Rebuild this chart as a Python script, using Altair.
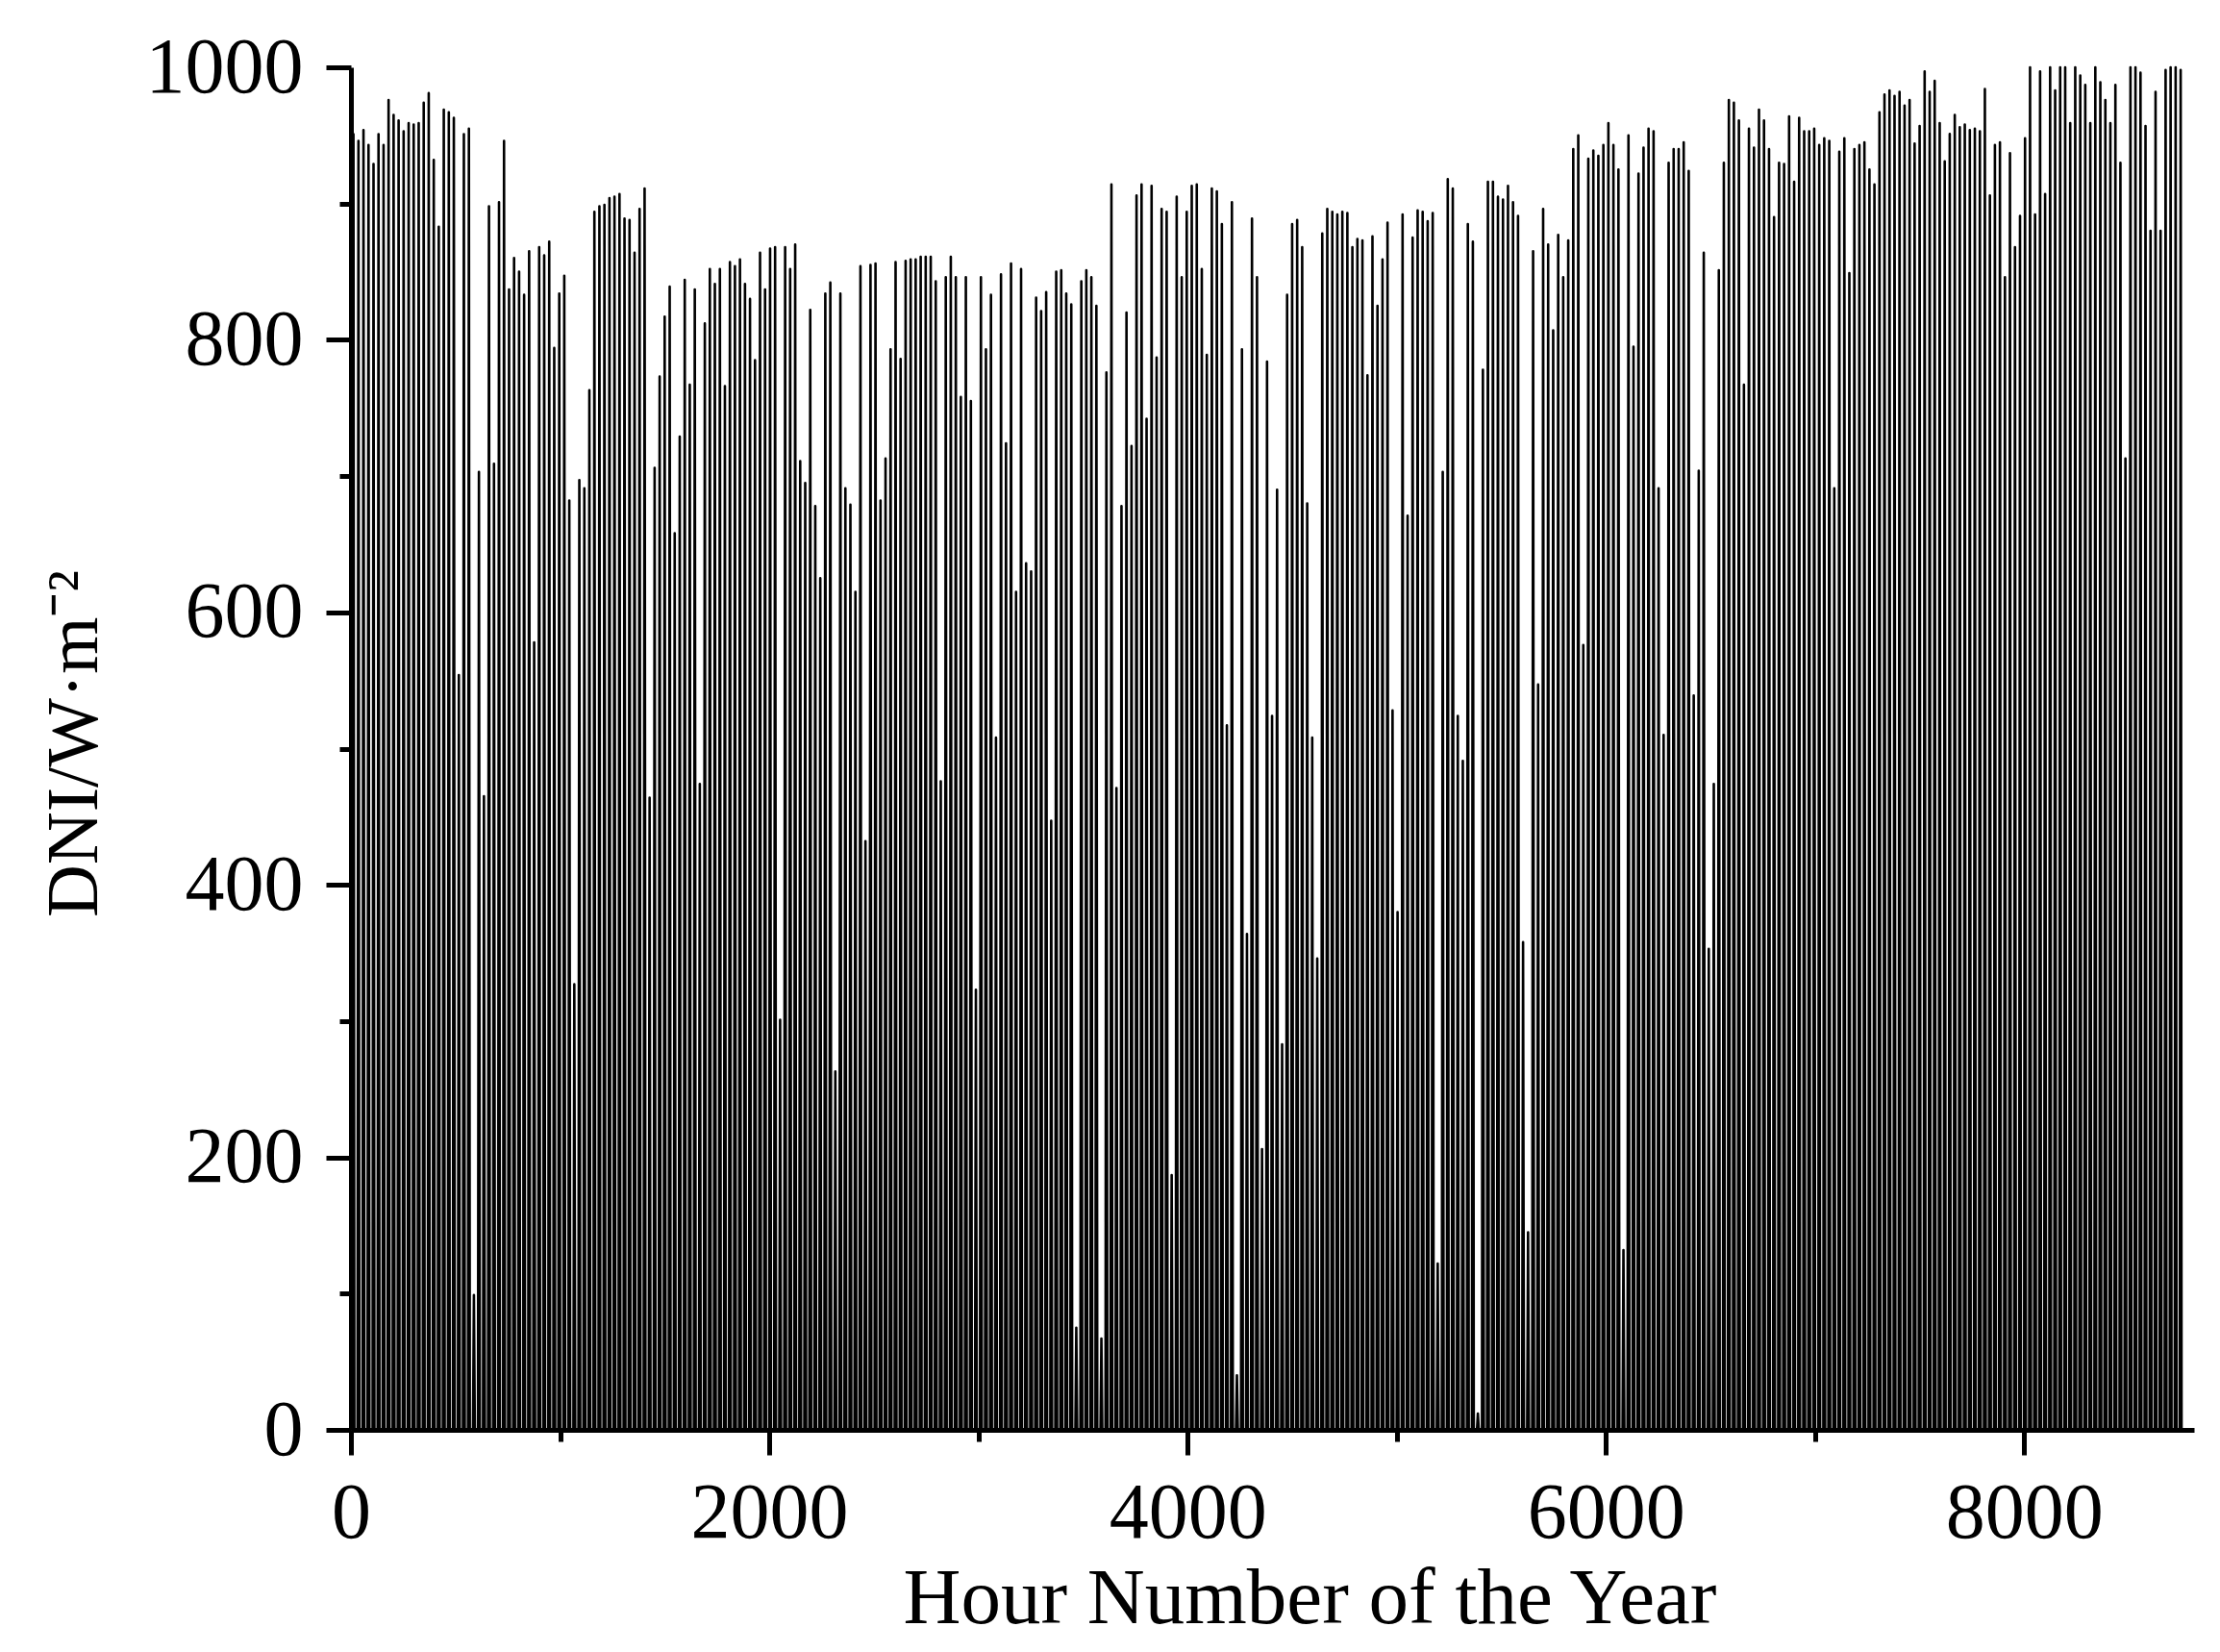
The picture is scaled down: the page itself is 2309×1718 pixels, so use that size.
import altair as alt
import pandas as pd

# Daily peak DNI (W/m^2), one value per day, grouped by month
jan = [951, 946, 954, 943, 929, 951, 943, 976, 965, 961, 953, 959, 958, 959, 974, 981,
       932, 883, 969, 967, 963, 554, 951, 955, 99, 703, 465, 898, 709, 901, 946]
feb = [837, 860, 850, 833, 865, 578, 868, 862, 872, 794, 834, 847, 682, 327, 697, 691,
       763, 894, 898, 899, 904, 905, 907, 889, 888, 864, 896, 911]
mar = [464, 706, 773, 817, 839, 658, 729, 844, 767, 837, 474, 812, 852, 841, 852, 766,
       857, 854, 859, 841, 830, 785, 864, 837, 867, 868, 301, 868, 852, 870, 711]
apr = [695, 822, 678, 625, 834, 842, 263, 834, 691, 679, 615, 854, 432, 855, 856, 682,
       713, 793, 857, 786, 858, 859, 859, 861, 861, 861, 843, 476, 846, 861]
may = [846, 758, 846, 755, 323, 846, 793, 833, 508, 848, 724, 856, 615, 852, 636, 630,
       831, 821, 835, 447, 850, 851, 834, 826, 75, 843, 851, 846, 825, 67, 776]
jun = [914, 471, 678, 820, 722, 906, 914, 742, 913, 787, 896, 894, 187, 905, 846, 894,
       913, 914, 852, 789, 911, 909, 885, 517, 901, 40, 793, 364, 889, 846]
jul = [206, 784, 524, 690, 283, 833, 885, 888, 868, 680, 508, 346, 878, 896, 894, 892,
       894, 893, 868, 874, 873, 774, 876, 825, 859, 886, 528, 380, 892, 671, 875]
aug = [895, 894, 887, 893, 122, 703, 918, 911, 524, 491, 885, 872, 12, 778, 916, 916,
       905, 903, 913, 901, 891, 358, 145, 865, 547, 896, 870, 807, 877, 846, 873]
sep = [940, 950, 576, 933, 939, 935, 943, 959, 943, 925, 132, 950, 795, 922, 941, 955,
       953, 691, 510, 930, 940, 940, 945, 924, 539, 704, 864, 353, 474, 851]
oct_ = [930, 976, 974, 961, 767, 955, 941, 969, 961, 940, 890, 930, 929, 964, 916, 963,
        953, 953, 955, 943, 948, 946, 691, 938, 948, 849, 940, 943, 945, 925, 914]
nov = [967, 980, 983, 979, 982, 972, 976, 944, 957, 997, 982, 990, 959, 931, 951, 965,
       956, 958, 954, 955, 953, 984, 906, 943, 945, 846, 937, 868, 891, 948]
dec = [1000, 892, 997, 907, 1000, 983, 1000, 1000, 959, 1000, 994, 987, 959, 1000, 989,
       976, 959, 987, 930, 713, 1000, 1000, 996, 957, 880, 982, 880, 998, 1000, 1000, 998]

x_ticks = [0, 2000, 4000, 6000, 8000]
x_minor = [1000, 3000, 5000, 7000]
y_ticks = [0, 200, 400, 600, 800, 1000]
y_minor = [100, 300, 500, 700, 900]

peaks = jan + feb + mar + apr + may + jun + jul + aug + sep + oct_ + nov + dec

# each day's spike: from zero (base) up to the day's peak (tip), at the day's noon hour
rows = []
for d, p in enumerate(peaks):
    rows.append({"day": d, "hour": d * 24 + 12, "dni": 0, "end": "base", "pos": 0})
    rows.append({"day": d, "hour": d * 24 + 12, "dni": p, "end": "tip", "pos": 1})
df = pd.DataFrame(rows)

FONT = "Liberation Serif"
xscale = alt.Scale(domain=[0, 8812], nice=False, zero=False)
yscale = alt.Scale(domain=[0, 1000], nice=False)

main = alt.Chart(df).mark_trail(color="black").encode(
    x=alt.X("hour:Q", scale=xscale, axis=alt.Axis(
        values=x_ticks, orient="bottom", format="d",
        title="Hour Number of the Year", titleX=997, titleY=200,
        titleAlign="center", titleBaseline="alphabetic", titleAngle=0,
        titleFont=FONT, titleFontSize=83, titleFontWeight="normal", titleColor="black",
        labelFont=FONT, labelFontSize=82, labelColor="black", labelPadding=20,
        labelFlush=False, labelOverlap=False,
        tickSize=26, tickWidth=5, tickColor="black",
        domainWidth=5, domainColor="black", grid=False)),
    y=alt.Y("dni:Q", scale=yscale, axis=alt.Axis(
        values=y_ticks, orient="left", format="d",
        title="DNI/W·m⁻²", titleX=-265, titleY=703, titleAngle=270,
        titleAlign="center", titleBaseline="alphabetic",
        titleFont=FONT, titleFontSize=76, titleFontWeight="normal", titleColor="black",
        labelFont=FONT, labelFontSize=82, labelColor="black", labelPadding=24,
        labelFlush=False, labelOverlap=False,
        tickSize=26, tickWidth=5, tickColor="black",
        domainWidth=5, domainColor="black", grid=False)),
    size=alt.Size("end:O", scale=alt.Scale(domain=["base", "tip"], range=[4.5, 2.6]), legend=None),
    detail="day:N",
    order=alt.Order("pos:Q"),
)

minor = alt.Chart(df).mark_rule(opacity=0).encode(
    x=alt.X("hour:Q", scale=xscale, axis=alt.Axis(
        values=x_minor, orient="bottom", labels=False, domain=False, title="",
        tickSize=12, tickWidth=5, tickColor="black", grid=False)),
    y=alt.Y("dni:Q", scale=yscale, axis=alt.Axis(
        values=y_minor, orient="left", labels=False, domain=False, title="",
        tickSize=12, tickWidth=5, tickColor="black", grid=False)),
)

chart = alt.layer(main, minor).resolve_axis(x="independent", y="independent").properties(
    width=1917, height=1417,
    padding={"left": 357, "top": 62, "right": 15, "bottom": 228},
    autosize=alt.AutoSizeParams(type="none"),
    background="white",
).configure_view(stroke="transparent")

chart.save("out.html", embed_options={"renderer": "svg", "actions": False})
